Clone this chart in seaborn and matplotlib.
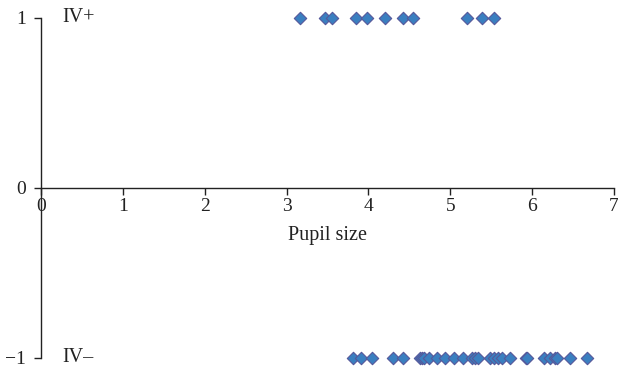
import matplotlib
matplotlib.use('Agg')
import matplotlib.pyplot as plt
import pandas as pd
import seaborn as sns

# Pupil size readings for each group
iv_pos_pupil = [3.16, 3.47, 3.55, 3.85, 3.98, 4.20, 4.42, 4.55, 5.21, 5.39, 5.54]
iv_neg_pupil = [3.81, 3.91, 4.04, 4.30, 4.42, 4.63, 4.66, 4.68, 4.74, 4.84, 4.93,
                5.04, 5.15, 5.27, 5.30, 5.34, 5.48, 5.54, 5.58, 5.63, 5.73, 5.92,
                5.94, 6.15, 6.22, 6.28, 6.30, 6.46, 6.67]
group_codes = {'IV+': 1, 'IV–': -1}

df = pd.DataFrame({
    'Pupil size': iv_pos_pupil + iv_neg_pupil,
    'Group': [group_codes['IV+']] * len(iv_pos_pupil) + [group_codes['IV–']] * len(iv_neg_pupil),
})

sns.set_style('white')
plt.rcParams['font.family'] = ['Liberation Serif', 'DejaVu Serif']
plt.rcParams['font.size'] = 14.5

fig = plt.figure(figsize=(6.18, 3.70), dpi=100)
ax = fig.add_axes([41 / 618, 12 / 370, 573 / 618, 340 / 370])

sns.scatterplot(data=df, x='Pupil size', y='Group', marker='D', s=40,
                color='#3a7fc0', edgecolor='#55589a', linewidth=0.8,
                clip_on=False, ax=ax, zorder=3)

ax.set_xlim(0, 7)
ax.set_ylim(-1, 1)
ax.set_xticks(range(0, 8))
ax.set_yticks([-1, 0, 1])

for side in ['top', 'right']:
    ax.spines[side].set_visible(False)
ax.spines['bottom'].set_position(('data', 0))
for side in ['left', 'bottom']:
    ax.spines[side].set_color('#222222')
    ax.spines[side].set_linewidth(1.0)

ax.tick_params(axis='both', bottom=True, left=True, direction='out', length=5,
               width=1.0, color='#222222', labelsize=14, labelcolor='#222222', pad=2)
ax.tick_params(axis='y', pad=6)
ax.set_xlabel('')
ax.set_ylabel('')

ax.text(3.5, -0.28, 'Pupil size', ha='center', va='center', fontsize=14.5, color='#222222')
for name, code in group_codes.items():
    ax.text(0.26, code, name, ha='left', va='center', fontsize=14.5, color='#222222')

fig.savefig('out.png', dpi=100)
